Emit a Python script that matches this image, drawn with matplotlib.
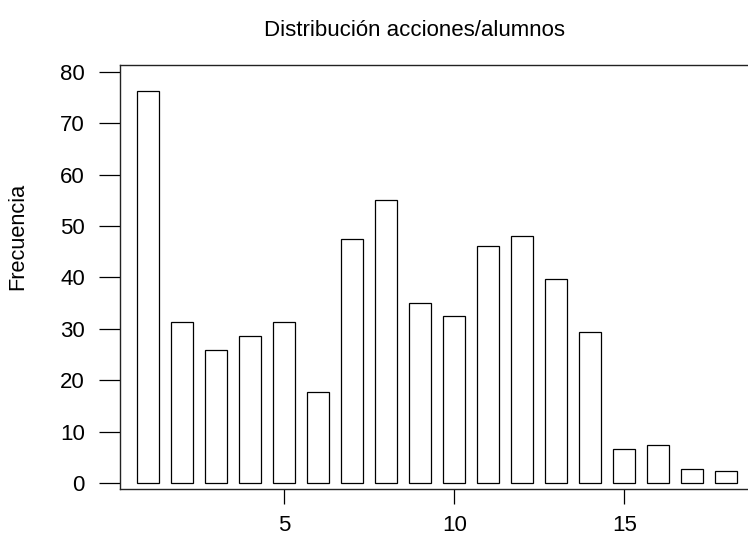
import matplotlib
matplotlib.use('Agg')
import matplotlib.pyplot as plt

# datos
acciones = list(range(1, 19))
frecuencias = [76.2, 31.4, 26.0, 28.7, 31.4, 17.7, 47.4, 55.1, 35.0,
               32.6, 46.2, 48.1, 39.8, 29.5, 6.6, 7.4, 2.8, 2.4]
ticks_x = [5, 10, 15]
ticks_y = [0, 10, 20, 30, 40, 50, 60, 70, 80]

plt.rcParams['font.family'] = ['Liberation Sans', 'DejaVu Sans']

fig = plt.figure(figsize=(7.48, 5.35), dpi=100)
ax = fig.add_axes([120.3 / 748, 1 - 489.3 / 535, 1 - 120.3 / 748, (489.3 - 65) / 535])

ax.bar(acciones, frecuencias, width=0.65, color='white', edgecolor='black', linewidth=0.9)

ax.set_xlim(0.176, 18.64)
ax.set_ylim(-1.17, 81.3)
ax.set_xticks(ticks_x)
ax.set_yticks(ticks_y)

ax.spines['right'].set_visible(False)
for lado in ['left', 'top', 'bottom']:
    ax.spines[lado].set_linewidth(1.0)
    ax.spines[lado].set_color('#222222')

ax.tick_params(axis='y', direction='out', length=15, width=0.9, pad=10.5, labelsize=16)
ax.tick_params(axis='x', direction='out', length=10.8, width=0.9, pad=8, labelsize=16)

fig.text(414.5 / 748, 1 - 30 / 535, 'Distribución acciones/alumnos',
         ha='center', va='center', fontsize=16)
fig.text(18 / 748, 1 - 236 / 535, 'Frecuencia', rotation=90,
         ha='center', va='center', fontsize=15.7)

fig.savefig('out.png', dpi=100)
